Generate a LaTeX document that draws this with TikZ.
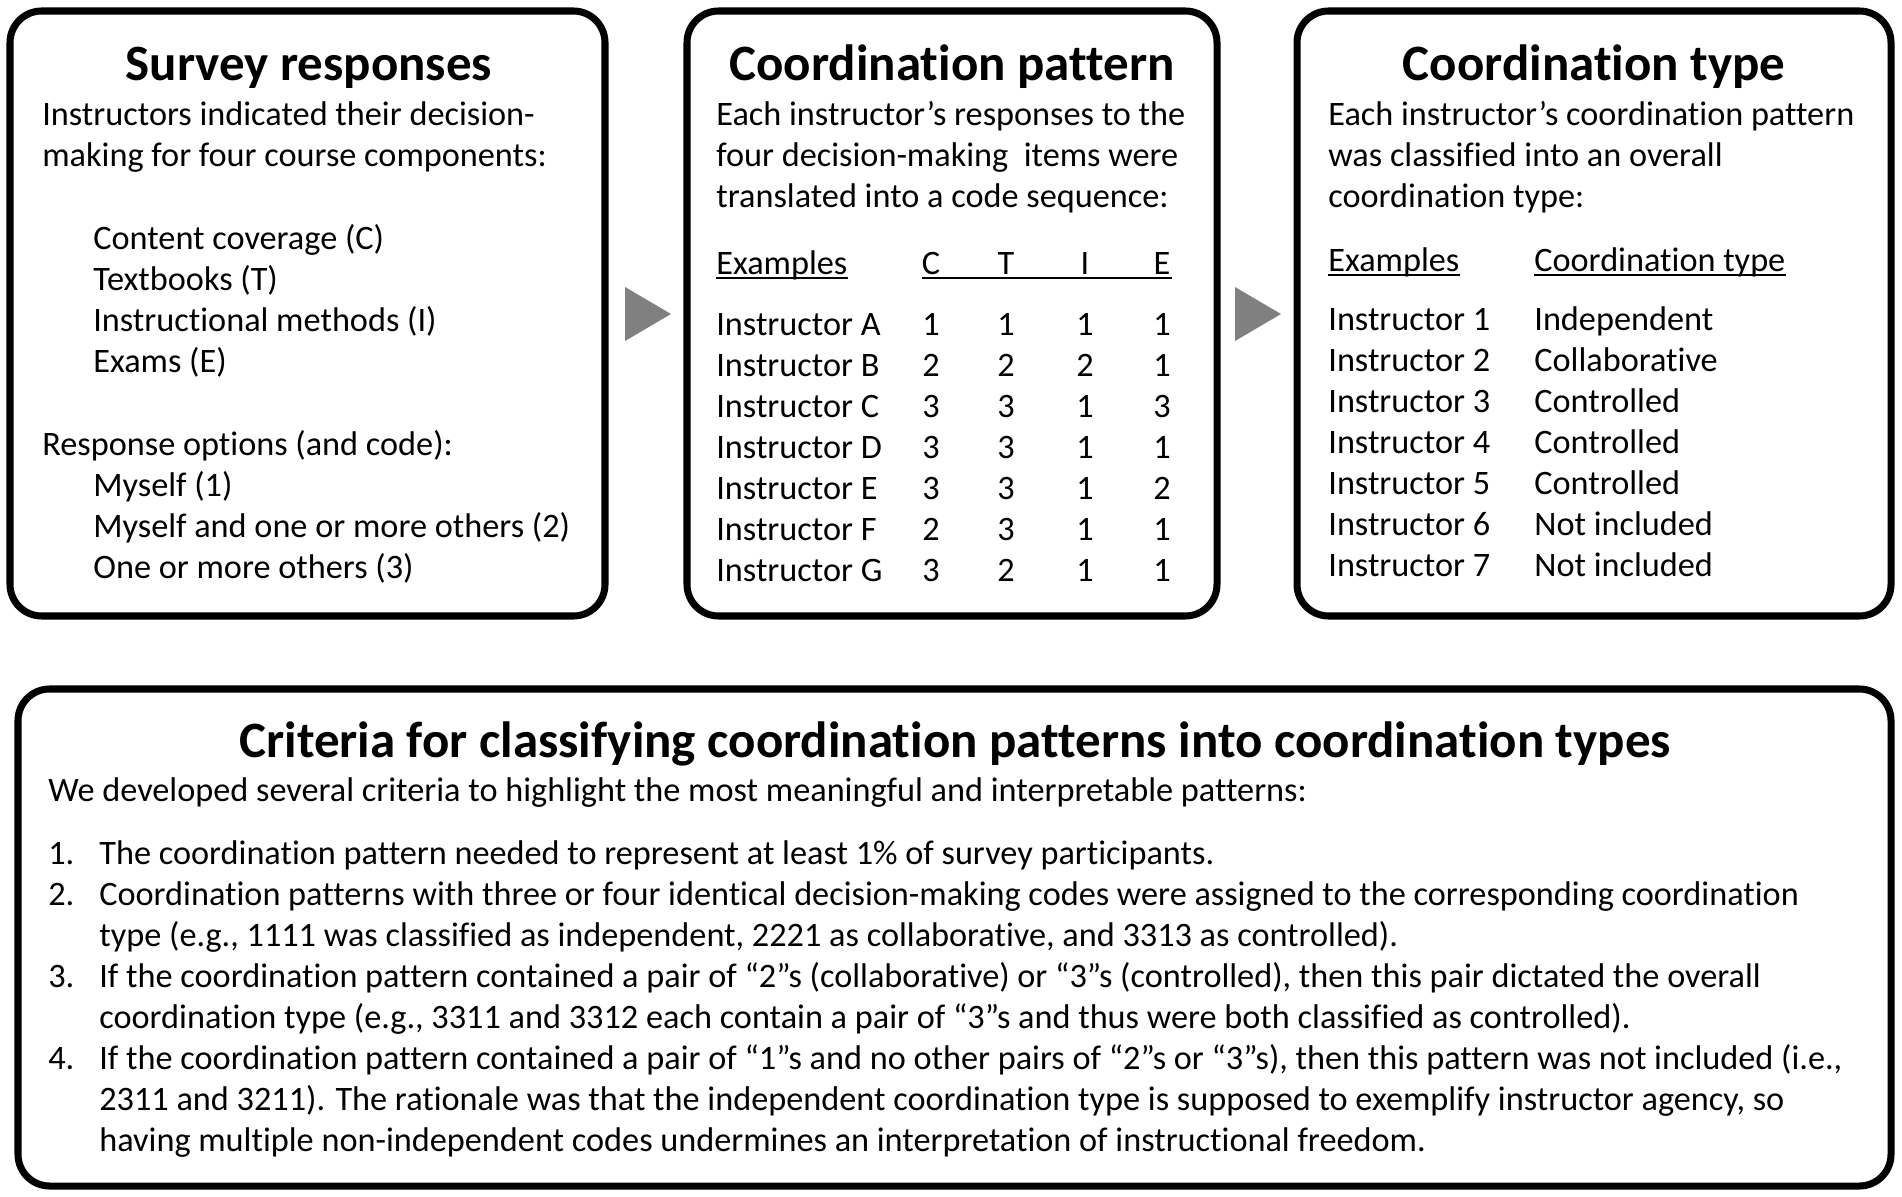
\documentclass[tikz,border=0pt]{standalone}
\usepackage{fontspec}
\setmainfont{Carlito}[Ligatures=NoCommon]
\usepackage{tikz}
\usetikzlibrary{calc}
\definecolor{arrowgray}{RGB}{128,128,128}

\begin{document}
\begin{tikzpicture}[x=0.02cm,y=-0.02cm,
			panel/.style={line width=4pt,rounded corners=18pt},
			title/.style={anchor=base,inner sep=0pt,font=\fontsize{29}{34}\selectfont\bfseries},
			txt/.style={anchor=base west,inner sep=0pt,font=\fontsize{19.5}{23}\selectfont},
			num/.style={anchor=base,inner sep=0pt,font=\fontsize{19.5}{23}\selectfont},
			uline/.style={line width=1.1pt},
			tri/.style={fill=arrowgray},
			]
			\useasboundingbox (0,0) rectangle (1902,1196);
			
			% the three boxes on top and the wide one below
			\draw[panel] (10,11) rectangle (605,616);
			\draw[panel] (687,11) rectangle (1217,616);
			\draw[panel] (1297,11) rectangle (1891,616);
			\draw[panel] (18,689) rectangle (1891,1186);
			
			% gray triangles between the boxes
			\fill[tri] (625,287) -- (671,314) -- (625,341) -- cycle;
			\fill[tri] (1235,287) -- (1281,314) -- (1235,341) -- cycle;
			
			% survey responses
			\node[title] (survey) at (309,81) {Survey responses};
			\node[txt] (s1) at (42,126) {Instructors indicated their decision-};
			\node[txt] (s2) at (42,167) {making for four course components:};
			\node[txt] (comp1) at (93,249) {Content coverage (C)};
			\node[txt] (comp2) at (93,290) {Textbooks (T)};
			\node[txt] (comp3) at (93,331) {Instructional methods (I)};
			\node[txt] (comp4) at (93,372) {Exams (E)};
			\node[txt] (opts) at (42,455) {Response options (and code):};
			\node[txt] (opt1) at (93,496) {Myself (1)};
			\node[txt] (opt2) at (93,537) {Myself and one or more others (2)};
			\node[txt] (opt3) at (93,578) {One or more others (3)};
			
			% coordination pattern
			\node[title] (pattern) at (952,81) {Coordination pattern};
			\node[txt] (p1) at (716,126) {Each instructor’s responses to the};
			\node[txt] (p2) at (716,167) {four decision-making\ \ items were};
			\node[txt] (p3) at (716,208) {translated into a code sequence:};
			\node[txt] (pex) at (716,274) {Examples};
			\node[num] (hC) at (931,274) {C};
			\node[num] (hT) at (1006,274) {T};
			\node[num] (hI) at (1085,274) {I};
			\node[num] (hE) at (1162,274) {E};
			\draw[uline] ($(pex.base west)+(0,4)$) -- ($(pex.base east)+(0,4)$);
			\draw[uline] ($(hC.base)+(-9,4)$) -- ($(hE.base)+(10,4)$);
			\foreach \nm/\cc/\ct/\ci/\ce [count=\k from 0] in {A/1/1/1/1,B/2/2/2/1,C/3/3/1/3,D/3/3/1/1,E/3/3/1/2,F/2/3/1/1,G/3/2/1/1}{
				\node[txt] (row\nm) at (716,{335+41*\k}) {Instructor \nm};
				\node[num] at (931,{335+41*\k}) {\cc};
				\node[num] at (1006,{335+41*\k}) {\ct};
				\node[num] at (1085,{335+41*\k}) {\ci};
				\node[num] at (1162,{335+41*\k}) {\ce};
			}
			
			% coordination type
			\node[title] (ctype) at (1594,81) {Coordination type};
			\node[txt] (t1) at (1328,126) {Each instructor’s coordination pattern};
			\node[txt] (t2) at (1328,167) {was classified into an overall};
			\node[txt] (t3) at (1328,208) {coordination type:};
			\node[txt] (tex) at (1328,271) {Examples};
			\node[txt] (tty) at (1534,271) {Coordination type};
			\draw[uline] ($(tex.base west)+(0,4)$) -- ($(tex.base east)+(0,4)$);
			\draw[uline] ($(tty.base west)+(0,4)$) -- ($(tty.base east)+(0,4)$);
			\foreach \ty [count=\k] in {Independent,Collaborative,Controlled,Controlled,Controlled,Not included,Not included}{
				\node[txt] (ins\k) at (1328,{330+41*(\k-1)}) {Instructor \k};
				\node[txt] (typ\k) at (1534,{330+41*(\k-1)}) {\ty};
			}
			
			% criteria
			\node[title] (crit) at (955,757) {Criteria for classifying coordination patterns into coordination types};
			\node[txt] (c0) at (48,801) {We developed several criteria to highlight the most meaningful and interpretable patterns:};
			\node[txt] (n1) at (48,864) {1.};
			\node[txt] (n2) at (48,905) {2.};
			\node[txt] (n3) at (48,987) {3.};
			\node[txt] (n4) at (48,1069) {4.};
			\node[txt] (c1) at (99,864) {The coordination pattern needed to represent at least 1\% of survey participants.};
			\node[txt] (c2a) at (99,905) {Coordination patterns with three or four identical decision-making codes were assigned to the corresponding coordination};
			\node[txt] (c2b) at (99,946) {type (e.g., 1111 was classified as independent, 2221 as collaborative, and 3313 as controlled).};
			\node[txt] (c3a) at (99,987) {If the coordination pattern contained a pair of “2”s (collaborative) or “3”s (controlled), then this pair dictated the overall};
			\node[txt] (c3b) at (99,1028) {coordination type (e.g., 3311 and 3312 each contain a pair of “3”s and thus were both classified as controlled).};
			\node[txt] (c4a) at (99,1069) {If the coordination pattern contained a pair of “1”s and no other pairs of “2”s or “3”s), then this pattern was not included (i.e.,};
			\node[txt] (c4b) at (99,1110) {2311 and 3211). The rationale was that the independent coordination type is supposed to exemplify instructor agency, so};
			\node[txt] (c4c) at (99,1151) {having multiple non-independent codes undermines an interpretation of instructional freedom.};
		\end{tikzpicture}
\end{document}
